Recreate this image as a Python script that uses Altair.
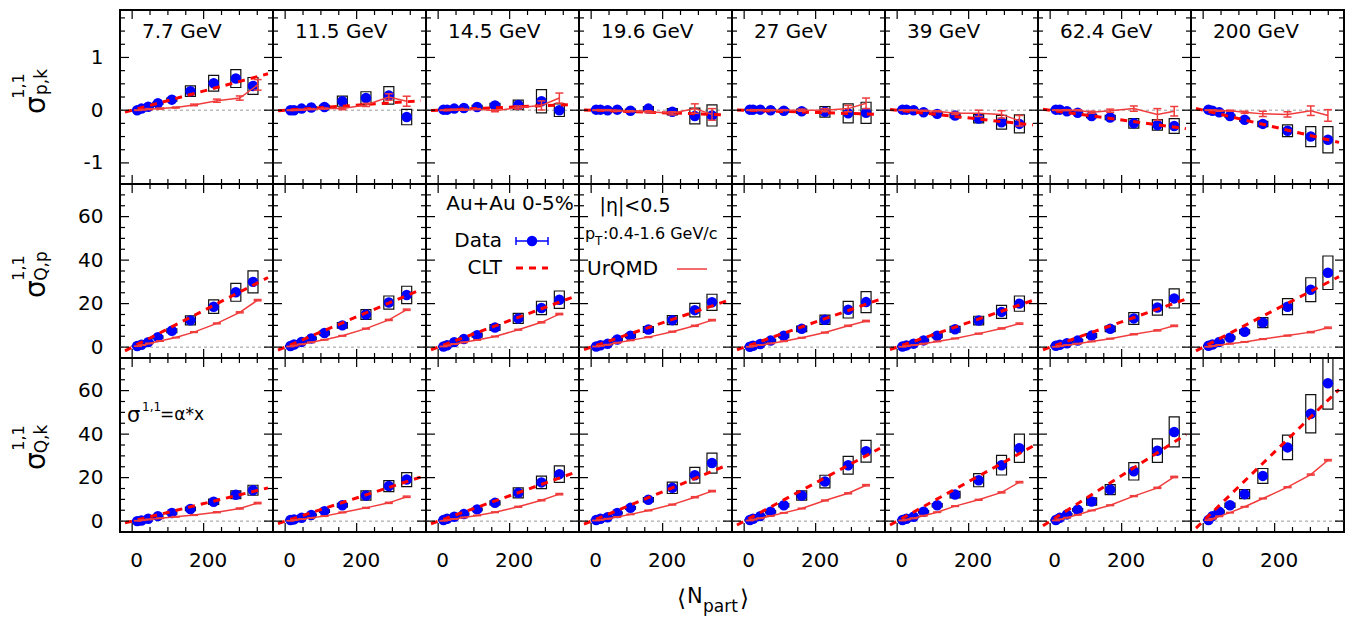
import altair as alt
import pandas as pd

FONT = "DejaVu Sans"
W, H = 153, 174
XDOM = [-20, 380]
YDOMS = [[-1.4, 1.9], [-5, 75], [-5, 75]]

energies = ["7.7 GeV", "11.5 GeV", "14.5 GeV", "19.6 GeV", "27 GeV", "39 GeV", "62.4 GeV", "200 GeV"]

# <N_part> of the nine centrality classes (70-80% ... 0-5%)
npart_data = [
    [14, 26, 45, 72, 111, 163, 228, 290, 338],
    [15, 25, 46, 73, 110, 160, 226, 290, 340],
    [15, 25, 45, 72, 109, 159, 224, 289, 339],
    [14, 26, 46, 73, 110, 160, 227, 290, 338],
    [16, 25, 45, 74, 111, 161, 226, 291, 341],
    [15, 26, 46, 74, 112, 162, 228, 292, 342],
    [16, 27, 47, 77, 116, 168, 234, 300, 347],
    [15, 26, 45, 75, 116, 167, 236, 301, 349],
]
npart_urqmd = [
    [16, 28, 48, 78, 122, 173, 237, 301, 351],
    [15, 25, 46, 73, 110, 160, 226, 290, 340],
    [15, 25, 45, 72, 109, 159, 224, 289, 339],
    [14, 26, 46, 73, 110, 160, 227, 290, 338],
    [16, 25, 45, 74, 111, 161, 226, 291, 341],
    [15, 26, 46, 74, 112, 162, 228, 292, 342],
    [16, 27, 47, 77, 116, 168, 234, 300, 347],
    [15, 26, 45, 75, 116, 167, 236, 301, 349],
]

# ---- row 1: sigma^{1,1}_{p,k}
pk_val = [
    [0.0, 0.03, 0.065, 0.13, 0.2, 0.36, 0.51, 0.6, 0.46],
    [0.0, 0.0, 0.03, 0.05, 0.06, 0.17, 0.23, 0.28, -0.13],
    [0.01, 0.01, 0.03, 0.04, 0.06, 0.09, 0.1, 0.17, 0.0],
    [0.01, 0.01, 0.0, 0.01, -0.01, 0.03, -0.03, -0.11, -0.1],
    [0.01, 0.01, 0.01, 0.0, -0.01, -0.02, -0.03, -0.06, -0.05],
    [0.01, 0.01, 0.0, -0.04, -0.07, -0.1, -0.16, -0.23, -0.26],
    [0.01, 0.01, -0.02, -0.05, -0.11, -0.14, -0.25, -0.28, -0.3],
    [0.01, -0.01, -0.04, -0.11, -0.18, -0.26, -0.39, -0.5, -0.56],
]
pk_sys = [
    [0.01, 0.01, 0.01, 0.02, 0.03, 0.1, 0.15, 0.17, 0.16],
    [0.01, 0.01, 0.01, 0.02, 0.03, 0.095, 0.12, 0.165, 0.146],
    [0.01, 0.01, 0.01, 0.02, 0.03, 0.04, 0.09, 0.22, 0.12],
    [0.01, 0.01, 0.01, 0.02, 0.03, 0.04, 0.06, 0.15, 0.2],
    [0.01, 0.01, 0.01, 0.02, 0.03, 0.04, 0.1, 0.18, 0.2],
    [0.01, 0.01, 0.01, 0.02, 0.03, 0.04, 0.08, 0.13, 0.17],
    [0.01, 0.01, 0.01, 0.02, 0.03, 0.04, 0.09, 0.1, 0.14],
    [0.01, 0.01, 0.01, 0.02, 0.03, 0.05, 0.11, 0.19, 0.25],
]
pk_urqmd = [
    [0.0, 0.01, 0.02, 0.03, 0.05, 0.1, 0.18, 0.23, 0.48],
    [0.0, 0.0, 0.01, 0.02, 0.03, 0.03, 0.1, 0.25, 0.17],
    [0.0, 0.0, 0.01, 0.01, 0.02, -0.01, 0.05, 0.09, 0.23],
    [0.0, 0.0, 0.0, -0.01, -0.02, -0.03, -0.06, 0.03, -0.08],
    [0.0, 0.0, 0.0, 0.0, 0.0, 0.0, 0.0, 0.03, 0.13],
    [0.0, 0.0, 0.0, -0.01, -0.02, -0.06, -0.06, -0.08, -0.2],
    [0.0, 0.0, 0.0, 0.0, -0.04, -0.01, 0.03, -0.08, -0.02],
    [0.0, 0.0, -0.01, -0.01, -0.04, -0.07, -0.08, -0.01, -0.1],
]
pk_urqmd_err = [
    [0.005, 0.005, 0.01, 0.01, 0.01, 0.015, 0.03, 0.04, 0.1],
    [0.005, 0.005, 0.01, 0.01, 0.01, 0.02, 0.03, 0.06, 0.095],
    [0.005, 0.005, 0.01, 0.01, 0.01, 0.02, 0.03, 0.086, 0.095],
    [0.005, 0.005, 0.01, 0.01, 0.01, 0.02, 0.03, 0.09, 0.11],
    [0.005, 0.005, 0.01, 0.01, 0.01, 0.02, 0.03, 0.06, 0.1],
    [0.005, 0.005, 0.01, 0.01, 0.01, 0.02, 0.06, 0.07, 0.1],
    [0.005, 0.005, 0.01, 0.01, 0.02, 0.03, 0.05, 0.11, 0.09],
    [0.005, 0.005, 0.01, 0.01, 0.02, 0.05, 0.05, 0.09, 0.11],
]
pk_clt_lo = [-0.036, -0.01, -0.006, 0.005, 0.004, 0.015, 0.018, 0.032]   # at <Npart> = -20
pk_clt_hi = [0.69, 0.18, 0.11, -0.09, -0.08, -0.28, -0.35, -0.61]        # at <Npart> = 380

# ---- row 2: sigma^{1,1}_{Q,p}
qp_val = [
    [0.5, 1.1, 2.3, 4.6, 7.5, 12.3, 18.6, 25.2, 30.0],
    [0.5, 1.2, 2.4, 4.0, 6.5, 10.0, 15.0, 20.5, 24.0],
    [0.3, 0.9, 2.3, 3.7, 5.5, 9.0, 13.2, 18.0, 21.8],
    [0.3, 0.9, 1.5, 3.5, 5.2, 8.1, 12.4, 17.0, 20.6],
    [0.2, 0.6, 1.4, 3.0, 5.2, 8.4, 12.6, 17.2, 20.7],
    [0.3, 0.8, 1.6, 3.1, 5.2, 8.2, 12.2, 16.2, 20.0],
    [0.6, 1.1, 1.8, 3.0, 5.3, 8.4, 13.2, 18.2, 22.4],
    [0.6, 1.2, 2.4, 4.3, 7.1, 11.3, 18.6, 26.4, 34.2],
]
qp_sys = [
    [0.2, 0.3, 0.4, 0.6, 0.9, 2.1, 3.1, 4.1, 5.1],
    [0.2, 0.3, 0.4, 0.6, 0.9, 1.3, 2.2, 3.0, 4.0],
    [0.2, 0.3, 0.4, 0.6, 0.9, 1.3, 2.3, 3.1, 4.0],
    [0.2, 0.3, 0.4, 0.6, 0.9, 1.3, 2.1, 3.1, 3.7],
    [0.2, 0.3, 0.4, 0.6, 0.9, 1.3, 2.1, 3.8, 4.8],
    [0.2, 0.3, 0.4, 0.6, 0.9, 1.3, 2.0, 3.0, 3.5],
    [0.2, 0.3, 0.4, 0.6, 0.9, 1.3, 2.7, 3.5, 4.4],
    [0.2, 0.3, 0.4, 0.6, 0.9, 2.3, 3.7, 5.5, 7.7],
]
qp_urqmd = [
    [0.4, 0.9, 1.7, 2.8, 4.4, 6.9, 10.9, 16.0, 21.6],
    [0.3, 0.7, 1.3, 2.2, 3.4, 5.2, 8.5, 12.5, 17.2],
    [0.3, 0.7, 1.4, 2.2, 3.3, 4.9, 8.0, 11.4, 15.2],
    [0.3, 0.6, 1.1, 2.0, 3.1, 4.6, 7.1, 9.8, 12.4],
    [0.2, 0.5, 1.0, 1.7, 2.7, 4.3, 6.7, 9.8, 12.0],
    [0.2, 0.5, 0.9, 1.6, 2.6, 4.0, 6.2, 8.6, 10.8],
    [0.2, 0.5, 0.9, 1.6, 2.6, 3.9, 5.9, 7.7, 9.8],
    [0.2, 0.5, 1.0, 1.6, 2.4, 3.7, 5.3, 6.9, 8.9],
]
qp_urqmd_err = [[0.05, 0.05, 0.1, 0.1, 0.1, 0.15, 0.2, 0.25, 0.3]] * 8
qp_clt_lo = [-1.7, -1.4, -1.2, -1.1, -1.2, -1.1, -1.2, -1.7]
qp_clt_hi = [32.0, 26.5, 23.2, 21.3, 22.0, 21.5, 22.1, 32.4]

# ---- row 3: sigma^{1,1}_{Q,k}
qk_val = [
    [0.0, 0.3, 1.1, 2.3, 3.7, 5.6, 8.9, 12.1, 14.2],
    [0.5, 0.8, 1.5, 2.8, 4.6, 7.3, 11.8, 16.1, 19.1],
    [0.5, 1.1, 2.0, 3.3, 5.4, 8.4, 13.0, 17.8, 21.6],
    [0.5, 1.1, 1.8, 3.7, 6.1, 9.8, 15.3, 21.1, 26.7],
    [0.5, 1.1, 2.3, 4.3, 7.3, 11.8, 18.2, 25.7, 32.1],
    [0.5, 1.1, 2.0, 4.3, 7.3, 12.2, 18.8, 25.7, 33.5],
    [0.5, 1.5, 3.1, 5.2, 9.0, 14.5, 22.9, 32.4, 41.0],
    [0.5, 2.3, 4.3, 7.3, 12.4, 20.8, 33.9, 49.4, 63.4],
]
qk_sys = [
    [0.1, 0.2, 0.3, 0.4, 0.5, 0.8, 1.2, 1.8, 2.3],
    [0.1, 0.2, 0.3, 0.4, 0.6, 0.9, 2.1, 2.5, 3.2],
    [0.1, 0.2, 0.3, 0.4, 0.6, 0.9, 2.3, 2.9, 3.8],
    [0.1, 0.2, 0.3, 0.4, 0.6, 1.0, 2.6, 3.6, 4.6],
    [0.1, 0.2, 0.3, 0.5, 0.8, 2.1, 2.9, 4.1, 5.0],
    [0.1, 0.2, 0.3, 0.5, 0.8, 1.5, 3.0, 4.5, 6.5],
    [0.1, 0.2, 0.4, 0.6, 1.7, 2.3, 4.0, 5.4, 6.9],
    [0.2, 0.4, 0.6, 1.0, 2.1, 3.4, 5.6, 8.8, 11.9],
]
qk_urqmd = [
    [0.2, 0.4, 0.8, 1.3, 2.0, 2.8, 4.1, 5.8, 8.3],
    [0.2, 0.5, 0.9, 1.5, 2.3, 4.0, 6.1, 8.4, 11.2],
    [0.2, 0.5, 1.0, 1.7, 2.6, 4.1, 6.6, 9.6, 12.4],
    [0.3, 0.6, 1.1, 1.9, 3.1, 4.9, 7.6, 11.0, 13.8],
    [0.3, 0.7, 1.3, 2.4, 3.8, 5.8, 9.5, 12.8, 16.5],
    [0.3, 0.7, 1.3, 2.5, 4.1, 6.9, 9.8, 13.2, 17.9],
    [0.3, 0.8, 1.6, 2.9, 4.9, 7.3, 11.5, 15.3, 20.3],
    [0.4, 1.1, 2.2, 3.9, 6.6, 10.4, 15.6, 21.4, 28.0],
]
qk_urqmd_err = [[0.05, 0.05, 0.1, 0.1, 0.1, 0.15, 0.2, 0.25, 0.3]] * 8
qk_clt_lo = [-0.8, -1.1, -1.2, -1.4, -1.8, -1.8, -2.1, -3.2]
qk_clt_hi = [15.3, 20.3, 22.2, 25.7, 33.5, 34.5, 39.8, 60.5]

ROWS = [
    (pk_val, pk_sys, pk_urqmd, pk_urqmd_err, pk_clt_lo, pk_clt_hi),
    (qp_val, qp_sys, qp_urqmd, qp_urqmd_err, qp_clt_lo, qp_clt_hi),
    (qk_val, qk_sys, qk_urqmd, qk_urqmd_err, qk_clt_lo, qk_clt_hi),
]

x_major = [0, 200]
x_minor = [50, 100, 150, 250, 300, 350]
y_major = [[-1, 0, 1], [0, 20, 40, 60], [0, 20, 40, 60]]
y_minor = [
    [-1.25, -0.75, -0.5, -0.25, 0.25, 0.5, 0.75, 1.25, 1.5, 1.75],
    [5, 10, 15, 25, 30, 35, 45, 50, 55, 65, 70],
    [5, 10, 15, 25, 30, 35, 45, 50, 55, 65, 70],
]
ytitle_sub = ["p,k", "Q,p", "Q,k"]

BLUE = "#0000ff"
RED = "#ff0000"
URQ = "#f03c3c"
one = pd.DataFrame({"k": [0]})


def txt(s, x, y, size=20, align="left", angle=0, baseline="middle"):
    kw = dict(text=s, fontSize=size, font=FONT, align=align, baseline=baseline, color="black")
    if angle:
        kw["angle"] = angle
    return alt.Chart(one).mark_text(**kw).encode(x=alt.value(x), y=alt.value(y))


def hseg(x1, x2, y, color, width, dash=None):
    kw = dict(color=color, strokeWidth=width)
    if dash:
        kw["strokeDash"] = dash
    return alt.Chart(one).mark_rule(**kw).encode(x=alt.value(x1), x2=alt.value(x2), y=alt.value(y))


def vseg(x, y1, y2, color, width):
    return alt.Chart(one).mark_rule(color=color, strokeWidth=width).encode(
        x=alt.value(x), y=alt.value(y1), y2=alt.value(y2))


def panel(r, c):
    vals, syss, urq, urqe, clo, chi = ROWS[r]
    xs = alt.Scale(domain=XDOM, nice=False, zero=False)
    ys = alt.Scale(domain=YDOMS[r], nice=False, zero=False)
    if r == 2:
        xaxis = alt.Axis(values=x_major, ticks=False, tickSize=0, domain=False, grid=False,
                         labelFont=FONT, labelFontSize=20, labelColor="black",
                         labelPadding=18, labelOffset=4, title=None)
    else:
        xaxis = None
    if c == 0:
        yaxis = alt.Axis(values=y_major[r], ticks=False, tickSize=0, domain=False, grid=False,
                         labelFont=FONT, labelFontSize=20, labelColor="black",
                         labelPadding=17, labelExpr="toString(datum.value)", title=None)
    else:
        yaxis = None

    def X(f):
        return alt.X(f, type="quantitative", scale=xs, axis=xaxis, title=None)

    def Y(f):
        return alt.Y(f, type="quantitative", scale=ys, axis=yaxis, title=None)

    pts = pd.DataFrame({"n": npart_data[c], "v": vals[c]})
    pts["lo"] = pts["v"] - pd.Series(syss[c])
    pts["hi"] = pts["v"] + pd.Series(syss[c])
    u = pd.DataFrame({"n": npart_urqmd[c], "v": urq[c]})
    u["lo"] = u["v"] - pd.Series(urqe[c])
    u["hi"] = u["v"] + pd.Series(urqe[c])
    caps = pd.concat([u[["n", "lo"]].rename(columns={"lo": "e"}),
                      u[["n", "hi"]].rename(columns={"hi": "e"})])
    clt = pd.DataFrame({"n": XDOM, "v": [clo[c], chi[c]]})

    layers = []
    layers.append(alt.Chart(pd.DataFrame({"z": [0]})).mark_rule(
        color="#9a9a9a", strokeDash=[3, 3], strokeWidth=1).encode(
        y=Y("z"), x=alt.value(0), x2=alt.value(W)))
    layers.append(alt.Chart(pts).mark_bar(width=10, fillOpacity=0, stroke="#111111",
                                          strokeWidth=1.2, clip=True).encode(
        x=X("n"), y=Y("lo"), y2=alt.Y2("hi")))
    layers.append(alt.Chart(pts).mark_circle(size=110, color=BLUE, opacity=1, clip=True).encode(
        x=X("n"), y=Y("v")))
    layers.append(alt.Chart(clt).mark_line(color=RED, strokeWidth=3, strokeDash=[7, 6],
                                           clip=True).encode(x=X("n"), y=Y("v")))
    layers.append(alt.Chart(u).mark_line(color=URQ, strokeWidth=1.5, clip=True).encode(
        x=X("n"), y=Y("v")))
    layers.append(alt.Chart(u).mark_rule(color=URQ, strokeWidth=1.5, clip=True).encode(
        x=X("n"), y=Y("lo"), y2=alt.Y2("hi")))
    layers.append(alt.Chart(caps).mark_point(shape="M-1,0L1,0", size=64, filled=False,
                                             color=URQ, strokeWidth=1.5, opacity=1,
                                             clip=True).encode(x=X("n"), y=Y("e")))

    # inward tick marks on all four sides
    xmaj = pd.DataFrame({"t": x_major})
    xmin = pd.DataFrame({"t": x_minor})
    ymaj = pd.DataFrame({"t": y_major[r]})
    ymin = pd.DataFrame({"t": y_minor[r]})
    for df, L in ((xmaj, 9), (xmin, 5)):
        layers.append(alt.Chart(df).mark_rule(color="black", strokeWidth=1.2).encode(
            x=X("t"), y=alt.value(H), y2=alt.value(H - L)))
        layers.append(alt.Chart(df).mark_rule(color="black", strokeWidth=1.2).encode(
            x=X("t"), y=alt.value(0), y2=alt.value(L)))
    for df, L in ((ymaj, 9), (ymin, 5)):
        layers.append(alt.Chart(df).mark_rule(color="black", strokeWidth=1.2).encode(
            y=Y("t"), x=alt.value(0), x2=alt.value(L)))
        layers.append(alt.Chart(df).mark_rule(color="black", strokeWidth=1.2).encode(
            y=Y("t"), x=alt.value(W), x2=alt.value(W - L)))

    if r == 0:
        layers.append(txt(energies[c], 22, 22, size=20))

    if c == 0:
        ypos = [(95, 76, 72), (105, 84, 82), (103, 80, 81)][r]
        layers.append(txt("σ", -83, ypos[0], size=28, align="center", angle=270))
        layers.append(txt("1,1", -101, ypos[1], size=16, align="center", angle=270))
        layers.append(txt(ytitle_sub[r], -78, ypos[2], size=17, align="center", angle=270))

    if r == 2 and c == 0:
        layers.append(txt("σ", 7, 58, size=21))
        layers.append(txt("1,1", 22, 49, size=12))
        layers.append(txt("=α*x", 40, 57, size=17))

    if r == 1 and c == 2:
        layers.append(txt("Au+Au 0-5%", 84, 20, size=20, align="center"))
        layers.append(txt("Data", 76, 57, size=20, align="right"))
        layers.append(hseg(90, 122, 57, BLUE, 1.5))
        layers.append(vseg(90, 53, 61, BLUE, 1.5))
        layers.append(vseg(122, 53, 61, BLUE, 1.5))
        layers.append(alt.Chart(one).mark_circle(size=110, color=BLUE, opacity=1).encode(
            x=alt.value(106), y=alt.value(57)))
        layers.append(txt("CLT", 76, 84, size=20, align="right"))
        layers.append(hseg(90, 122, 84, RED, 3, dash=[7, 6]))

    if r == 1 and c == 3:
        layers.append(txt("|η|<0.5", 56, 22, size=19, align="center"))
        layers.append(txt("p", 6, 50, size=16))
        layers.append(txt("T", 16, 57, size=12))
        layers.append(txt(":0.4-1.6 GeV/c", 24, 50, size=16))
        layers.append(txt("UrQMD", 8, 85, size=20))
        layers.append(hseg(98, 128, 85, URQ, 1.5))

    if r == 2 and c == 3:
        layers.append(txt("⟨", 98, 241, size=23))
        layers.append(txt("N", 108, 239, size=21))
        layers.append(txt("part", 124, 249, size=17))
        layers.append(txt("⟩", 161, 241, size=23))

    return alt.layer(*layers).properties(width=W, height=H)


panels = [panel(r, c) for r in range(3) for c in range(8)]

chart = alt.concat(*panels, columns=8, spacing=0, bounds="flush").configure_view(
    stroke="black", strokeWidth=2
).properties(
    padding={"left": 2, "top": 0, "right": 0, "bottom": 0},
    background="white",
)

chart.save("out.html", embed_options={"renderer": "svg", "actions": False})
